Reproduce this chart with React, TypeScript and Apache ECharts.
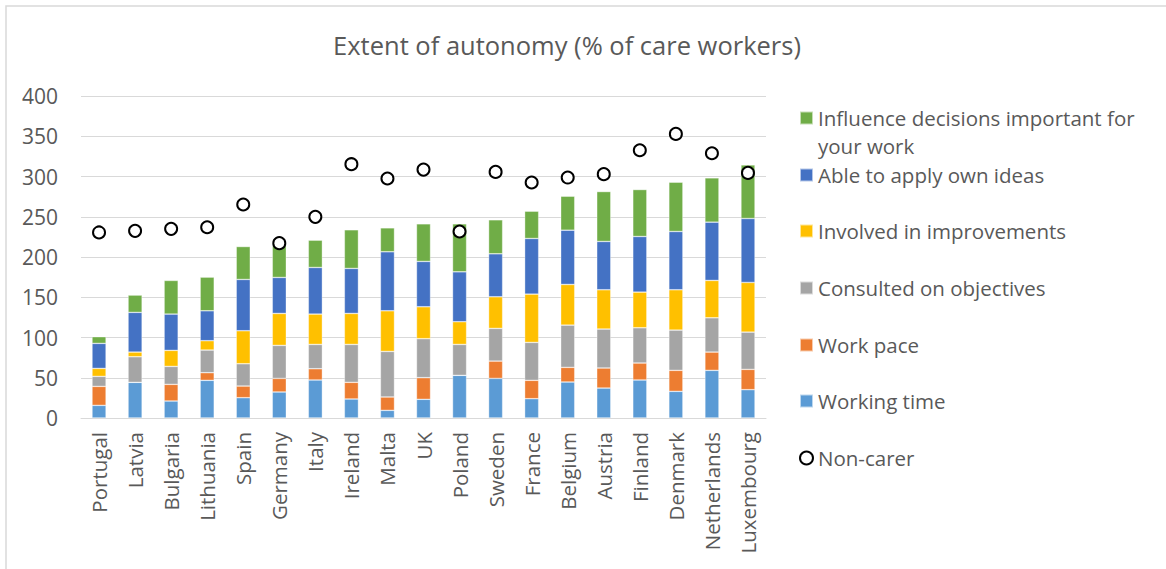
import React, { useEffect, useRef } from "react";
import * as echarts from "echarts";

const categories = ["Portugal", "Latvia", "Bulgaria", "Lithuania", "Spain", "Germany", "Italy", "Ireland", "Malta", "UK", "Poland", "Sweden", "France", "Belgium", "Austria", "Finland", "Denmark", "Netherlands", "Luxembourg"];

const workingTime = [15.7, 44.3, 21.1, 46.8, 25.2, 32.3, 47.2, 23.6, 9.5, 23.2, 53, 49.2, 24, 44.7, 37.2, 47.2, 33.1, 59.2, 35.2];
const workPace = [23.6, 0, 20.7, 9.5, 14.5, 16.9, 14, 20.7, 16.6, 26.9, 0, 21.5, 22.8, 18.2, 24.9, 21.1, 26.1, 22.7, 25.2];
const consulted = [12.4, 31.8, 22.3, 28.1, 27.7, 41, 30.2, 47.1, 56.6, 48.4, 38.4, 40.6, 47.1, 52.5, 48.4, 43.8, 50, 42.6, 46.3];
const involved = [9.9, 5.8, 19.9, 11.6, 41, 39.7, 37.7, 38.5, 50.5, 39.7, 28.2, 39.3, 60, 50.5, 48.8, 44.3, 50.1, 46.4, 61.7];
const ownIdeas = [31.1, 49.3, 45.1, 37.2, 63.7, 44.7, 57.9, 55.9, 73.3, 56.3, 62, 53.4, 69.1, 67.4, 60, 69.1, 72.4, 72.4, 79.4];
const influence = [8.3, 21.5, 41.8, 41.8, 40.9, 39.4, 33.9, 48, 29.7, 46.7, 59.6, 42.2, 33.9, 42.2, 62, 58.3, 61.2, 55, 66.6];
const nonCarer = [230.5, 232.5, 235, 237, 265.2, 217.2, 249.9, 315.3, 297.5, 308.6, 231.7, 305.7, 292.5, 298.7, 302.9, 332.6, 352.9, 328.9, 304.5];

const yTicks = { min: 0, max: 400, interval: 50 };

const FONT = "Open Sans";
const TXT = "#595959";

const stackSeries = [
  { name: "Working time", data: workingTime, color: "#5b9bd5" },
  { name: "Work pace", data: workPace, color: "#ed7d31" },
  { name: "Consulted on objectives", data: consulted, color: "#a5a5a5" },
  { name: "Involved in improvements", data: involved, color: "#ffc000" },
  { name: "Able to apply own ideas", data: ownIdeas, color: "#4472c4" },
  { name: "Influence decisions important for your work", data: influence, color: "#70ad47" },
];

const legendOrder = [
  { name: "Influence decisions important for your work", y: 118, label: "Influence decisions important for" },
  { name: "Able to apply own ideas", y: 175 },
  { name: "Involved in improvements", y: 231 },
  { name: "Consulted on objectives", y: 288 },
  { name: "Work pace", y: 345 },
  { name: "Working time", y: 401 },
  { name: "Non-carer", y: 458 },
];

export default function App() {
  const ref = useRef<HTMLDivElement>(null);
  useEffect(() => {
    if (!ref.current) return;
    const chart = echarts.init(ref.current, undefined, { renderer: "svg" });
    const series: any[] = stackSeries.map((s) => ({
      name: s.name,
      type: "bar",
      stack: "total",
      data: s.data,
      barWidth: "39%",
      itemStyle: { color: s.color, borderColor: "rgba(255,255,255,0.6)", borderWidth: 0.6 },
    }));
    series.push({
      name: "Non-carer",
      type: "scatter",
      data: nonCarer,
      symbol: "circle",
      symbolSize: 12,
      itemStyle: { color: "#ffffff", borderColor: "#000000", borderWidth: 2, opacity: 1 },
      z: 10,
    });
    const legends = legendOrder.map((l) => ({
      data: [l.name],
      orient: "vertical",
      left: 799,
      top: l.y - 11,
      padding: 0,
      itemWidth: 13,
      itemHeight: 13,
      icon: l.name === "Non-carer" ? "circle" : "rect",
      formatter: () => (l as any).label || l.name,
      textStyle: { fontFamily: FONT, fontSize: 20.5, color: TXT, lineHeight: 22 },
      selectedMode: false,
    }));
    chart.setOption({
      animation: false,
      grid: { left: 81, right: 400, top: 96, bottom: 151, containLabel: false },
      xAxis: {
        type: "category",
        data: categories,
        axisLine: { lineStyle: { color: "#d9d9d9", width: 1 } },
        axisTick: { show: false },
        axisLabel: { rotate: 90, margin: 14, fontFamily: FONT, fontSize: 20.5, color: TXT, interval: 0 },
      },
      yAxis: {
        type: "value",
        min: yTicks.min,
        max: yTicks.max,
        interval: yTicks.interval,
        axisLine: { show: false },
        axisTick: { show: false },
        splitLine: { lineStyle: { color: "#d9d9d9", width: 1 } },
        axisLabel: { margin: 23, fontFamily: FONT, fontSize: 21, color: TXT },
      },
      legend: legends,
      series,
      graphic: [
        {
          type: "rect",
          shape: { x: 6, y: 6, width: 1200, height: 600 },
          style: { fill: "none", stroke: "#d9d9d9", lineWidth: 1.5 },
          silent: true,
        },
        {
          type: "text",
          x: 567,
          y: 45,
          style: { text: "Extent of autonomy (% of care workers)", align: "center", verticalAlign: "middle", fontFamily: FONT, fontSize: 25.5, fill: TXT },
        },
        {
          type: "text",
          x: 818,
          y: 146,
          style: { text: "your work", align: "left", verticalAlign: "middle", fontFamily: FONT, fontSize: 20.5, fill: TXT },
        },
      ],
    });
    return () => chart.dispose();
  }, []);
  return <div ref={ref} style={{ position: "fixed", left: 0, top: 0, width: 1166, height: 569, background: "#fff" }} />;
}
